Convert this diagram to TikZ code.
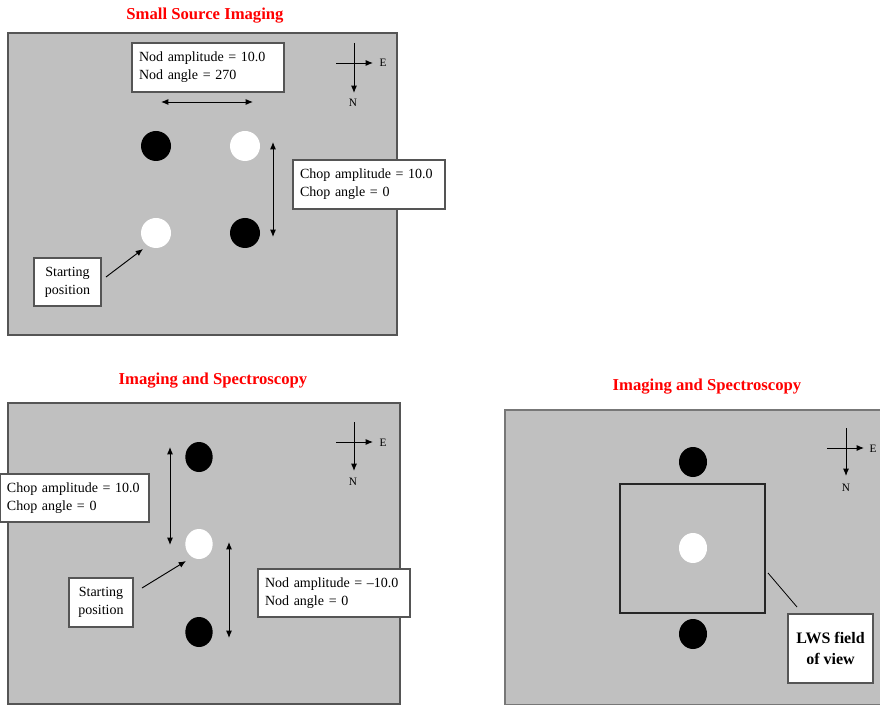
\documentclass[tikz,border=0pt]{standalone}
\usepackage{fontspec}
\setmainfont{Liberation Serif}
\usetikzlibrary{arrows.meta,shapes.geometric}
\definecolor{panelgray}{HTML}{C0C0C0}
\definecolor{edgegray}{HTML}{555555}
\definecolor{titlered}{HTML}{FF0000}
\begin{document}
\begin{tikzpicture}[x=0.75pt,y=-0.75pt,
  panel/.style={draw=edgegray, fill=panelgray, line width=1pt},
  ttl/.style={text=titlered, font=\fontsize{12.5}{15}\selectfont\bfseries, inner sep=0pt},
  lbox/.style={draw=edgegray, fill=white, line width=1pt, inner sep=5pt, align=left,
               font=\fontsize{10.5}{13.5}\selectfont},
  cbox/.style={lbox, align=center, inner sep=2pt},
  src/.style={ellipse, inner sep=0pt},
  blk/.style={fill=black},
  wht/.style={fill=white},
  tip/.tip={Latex[length=5.5pt,width=4.5pt]},
  dbl/.style={tip-tip, line width=0.7pt},
  one/.style={-tip, line width=0.7pt},
  cmplbl/.style={font=\fontsize{8.5}{9}\selectfont, inner sep=0pt},
]
\useasboundingbox (0,0) rectangle (880,705);
\fill[white] (0,0) rectangle (880,705);

% ================= Top panel =================
\node[ttl] (t1) at (205,16) {Small Source Imaging};
\draw[panel] (8,33) rectangle (397,335);

\node[lbox, minimum width=114pt, minimum height=36.75pt, text width=103.5pt] (nod1) at (208,67.5)
  {Nod amplitude = 10.0\\Nod angle = 270};
\coordinate (h1a) at (161,102);
\coordinate (h1b) at (253,102);
\draw[dbl] (h1a) -- (h1b);

\node[src, blk, minimum width=22.5pt, minimum height=22.5pt] (b11) at (156,146) {};
\node[src, wht, minimum width=22.5pt, minimum height=22.5pt] (w11) at (245,146) {};
\node[src, wht, minimum width=22.5pt, minimum height=22.5pt] (w12) at (156,233) {};
\node[src, blk, minimum width=22.5pt, minimum height=22.5pt] (b12) at (245,233) {};

\coordinate (v1a) at (273,142);
\coordinate (v1b) at (273,237);
\draw[dbl] (v1a) -- (v1b);

\node[lbox, minimum width=114pt, minimum height=36.75pt, text width=103.5pt] (chop1) at (369,184.5)
  {Chop amplitude = 10.0\\Chop angle = 0};

\node[cbox, minimum width=50.25pt, minimum height=36pt] (st1) at (67.5,282)
  {Starting\\position};
\coordinate (s1a) at (106,277);
\coordinate (s1b) at (143,249);
\draw[one] (s1a) -- (s1b);

% compass 1
\coordinate (c1n) at (354,43);
\coordinate (c1s) at (354,93);
\coordinate (c1w) at (336,63);
\coordinate (c1e) at (373,63);
\draw[one] (c1n) -- (c1s);
\draw[one] (c1w) -- (c1e);
\node[cmplbl] (e1) at (383,63) {E};
\node[cmplbl] (n1) at (353,103) {N};

% ================= Bottom-left panel =================
\node[ttl] (t2) at (213,381) {Imaging and Spectroscopy};
\draw[panel] (8,403) rectangle (400,704);

\node[src, blk, minimum width=20.5pt, minimum height=22.5pt] (b21) at (199,457) {};
\node[src, wht, minimum width=20.5pt, minimum height=22.5pt] (w21) at (199,544) {};
\node[src, blk, minimum width=20.5pt, minimum height=22.5pt] (b22) at (199,632) {};

\coordinate (v2a) at (170,447);
\coordinate (v2b) at (170,545);
\draw[dbl] (v2a) -- (v2b);
\coordinate (v3a) at (229,542);
\coordinate (v3b) at (229,638);
\draw[dbl] (v3a) -- (v3b);

\node[lbox, minimum width=111.75pt, minimum height=36pt, text width=101.25pt] (chop2) at (74.5,498)
  {Chop amplitude = 10.0\\Chop angle = 0};

\node[cbox, minimum width=48pt, minimum height=36.75pt] (st2) at (101,602.5)
  {Starting\\position};
\coordinate (s2a) at (142,588);
\coordinate (s2b) at (186,561);
\draw[one] (s2a) -- (s2b);

\node[lbox, minimum width=114pt, minimum height=36pt, text width=103.5pt] (nod2) at (334,593)
  {Nod amplitude = \textendash 10.0\\Nod angle = 0};

% compass 2
\coordinate (c2n) at (354,422);
\coordinate (c2s) at (354,471);
\coordinate (c2w) at (336,442);
\coordinate (c2e) at (373,442);
\draw[one] (c2n) -- (c2s);
\draw[one] (c2w) -- (c2e);
\node[cmplbl] (e2) at (383,443) {E};
\node[cmplbl] (n2) at (353,482) {N};

% ================= Bottom-right panel =================
\node[ttl] (t3) at (707,387) {Imaging and Spectroscopy};
\draw[panel, draw=edgegray!80] (505,410) rectangle (884,705);

\node[src, blk, minimum width=21pt, minimum height=22.5pt] (b31) at (693,462) {};
\node[src, wht, minimum width=21pt, minimum height=22.5pt] (w31) at (693,548) {};
\node[src, blk, minimum width=21pt, minimum height=22.5pt] (b32) at (693,634) {};

\node[draw=black!85, line width=0.8pt, minimum width=108.75pt, minimum height=96.75pt, inner sep=0pt] (fov) at (692.5,548.5) {};

\node[lbox, align=center, inner sep=2pt, minimum width=63.75pt, minimum height=51.75pt,
      font=\fontsize{12}{16}\selectfont\bfseries] (lws) at (830.5,648.5)
  {LWS field\\of view};
\coordinate (l3a) at (768,573);
\coordinate (l3b) at (797,607);
\draw[line width=0.6pt] (l3a) -- (l3b);

% compass 3
\coordinate (c3n) at (846,428);
\coordinate (c3s) at (846,476);
\coordinate (c3w) at (827,448);
\coordinate (c3e) at (864,448);
\draw[one] (c3n) -- (c3s);
\draw[one] (c3w) -- (c3e);
\node[cmplbl] (e3) at (873,449) {E};
\node[cmplbl] (n3) at (846,488) {N};
\end{tikzpicture}
\end{document}
